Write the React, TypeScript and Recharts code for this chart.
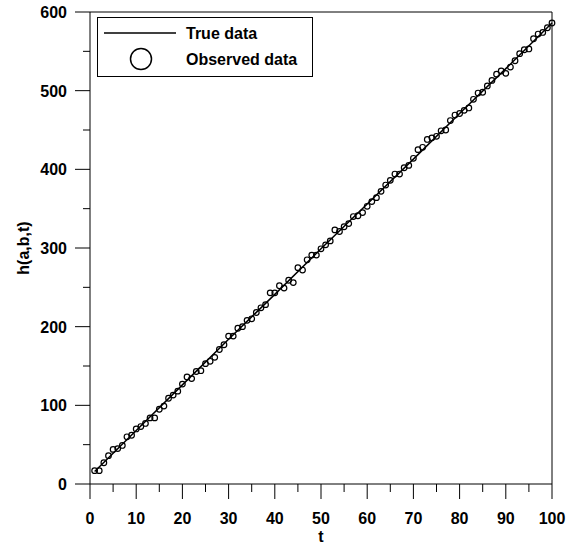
import React from 'react';
import { ScatterChart, Scatter, XAxis, YAxis, ReferenceLine, Legend } from 'recharts';

const FONT = "'Liberation Sans', Arial, sans-serif";

// model curve h(a,b,t), sampled every 10 steps of t
const trueT = [1, 10, 20, 30, 40, 50, 60, 70, 80, 90, 100];
const trueH = [16, 68, 126, 184, 241, 299, 356, 413, 471, 528, 586];

// noisy measurements, one per t = 1..100
const observedH = [
  17, 17, 27, 36, 44, 45, 49, 60, 62, 70,
  73, 77, 84, 84, 95, 99, 109, 113, 118, 127,
  136, 134, 143, 144, 153, 156, 161, 171, 177, 188,
  188, 198, 200, 208, 210, 218, 224, 228, 243, 243,
  252, 249, 259, 256, 275, 272, 285, 291, 291, 299,
  304, 309, 323, 321, 327, 331, 340, 341, 345, 353,
  359, 364, 372, 380, 386, 394, 394, 402, 405, 414,
  425, 428, 438, 440, 442, 449, 450, 462, 469, 471,
  475, 478, 489, 497, 498, 506, 513, 521, 525, 522,
  530, 538, 547, 552, 553, 566, 572, 574, 580, 586,
];

const xTicks = [0, 5, 10, 15, 20, 25, 30, 35, 40, 45, 50, 55, 60, 65, 70, 75, 80, 85, 90, 95, 100];
const yTicks = [0, 50, 100, 150, 200, 250, 300, 350, 400, 450, 500, 550, 600];

const TRUE_NAME = 'True data';
const OBS_NAME = 'Observed data';
const legendOrder = [TRUE_NAME, OBS_NAME];

const trueData = trueT.map((t, i) => ({ t, h: trueH[i] }));
const observedData = observedH.map((h, i) => ({ t: i + 1, h }));

const labelStyle = { fontFamily: FONT, fontSize: 16, fontWeight: 'bold' as const, fill: '#000' };

// major ticks get a label and a long mark, minor ones only a short mark
const XTick = ({ x, y, payload }: any) => {
  const major = payload.value % 10 === 0;
  return (
    <g>
      <line x1={x} y1={y} x2={x} y2={y + (major ? 15 : 8)} stroke="#000" />
      {major && (
        <text x={x} y={y + 40} textAnchor="middle" {...labelStyle}>
          {payload.value}
        </text>
      )}
    </g>
  );
};

const YTick = ({ x, y, payload }: any) => {
  const major = payload.value % 100 === 0;
  return (
    <g>
      <line x1={x} y1={y} x2={x - (major ? 15 : 7)} y2={y} stroke="#000" />
      {major && (
        <text x={x - 23} y={y + 6} textAnchor="end" {...labelStyle}>
          {payload.value}
        </text>
      )}
    </g>
  );
};

const LegendBox = ({ payload }: any) => {
  const entries = [...(payload || [])].sort(
    (a: any, b: any) => legendOrder.indexOf(a.value) - legendOrder.indexOf(b.value)
  );
  return (
    <svg width={216} height={60} style={{ display: 'block' }}>
      <rect x={0.5} y={0.5} width={215} height={59} fill="#fff" stroke="#000" />
      {entries.map((entry: any, i: number) => {
        const cy = i === 0 ? 16 : 42;
        return (
          <g key={entry.value}>
            {entry.value === TRUE_NAME ? (
              <line x1={7} y1={cy} x2={79} y2={cy} stroke="#000" strokeWidth={1.5} />
            ) : (
              <circle cx={44} cy={cy} r={10.5} fill="none" stroke="#000" strokeWidth={1.5} />
            )}
            <text x={89} y={cy + 5.5} {...labelStyle}>
              {entry.value}
            </text>
          </g>
        );
      })}
    </svg>
  );
};

const App = () => (
  <div style={{ position: 'absolute', left: 0, top: 0, width: 580, height: 546, background: '#fff' }}>
    <ScatterChart width={580} height={546} margin={{ top: 12, right: 28, bottom: 0, left: 0 }}>
      <XAxis
        type="number"
        dataKey="t"
        domain={[0, 100]}
        ticks={xTicks}
        interval={0}
        height={62}
        tickSize={0}
        tickMargin={0}
        tick={<XTick />}
        axisLine={{ stroke: '#000' }}
        label={({ viewBox }: any) => (
          <text x={viewBox.x + viewBox.width / 2} y={viewBox.y + 58} textAnchor="middle" {...labelStyle}>
            t
          </text>
        )}
      />
      <YAxis
        type="number"
        dataKey="h"
        domain={[0, 600]}
        ticks={yTicks}
        interval={0}
        width={90}
        tickSize={0}
        tickMargin={0}
        tick={<YTick />}
        axisLine={{ stroke: '#000' }}
        label={({ viewBox }: any) => {
          const lx = viewBox.x + 28.5;
          const ly = viewBox.y + viewBox.height / 2;
          return (
            <text x={lx} y={ly} transform={`rotate(-90, ${lx}, ${ly})`} textAnchor="middle" {...labelStyle}>
              h(a,b,t)
            </text>
          );
        }}
      />
      {/* frame on the top and right edges */}
      <ReferenceLine y={600} stroke="#000" />
      <ReferenceLine x={100} stroke="#000" />
      <Scatter
        name={TRUE_NAME}
        data={trueData}
        line={{ stroke: '#000', strokeWidth: 1.5 }}
        shape={() => <g />}
        isAnimationActive={false}
      />
      <Scatter
        name={OBS_NAME}
        data={observedData}
        shape={(p: any) => <circle cx={p.cx} cy={p.cy} r={2.8} fill="none" stroke="#000" strokeWidth={1.2} />}
        isAnimationActive={false}
      />
      <Legend
        layout="horizontal"
        verticalAlign="middle"
        align="center"
        content={<LegendBox />}
        wrapperStyle={{ position: 'absolute', left: 97, top: 17, width: 216, height: 60 }}
      />
    </ScatterChart>
  </div>
);

export default App;
